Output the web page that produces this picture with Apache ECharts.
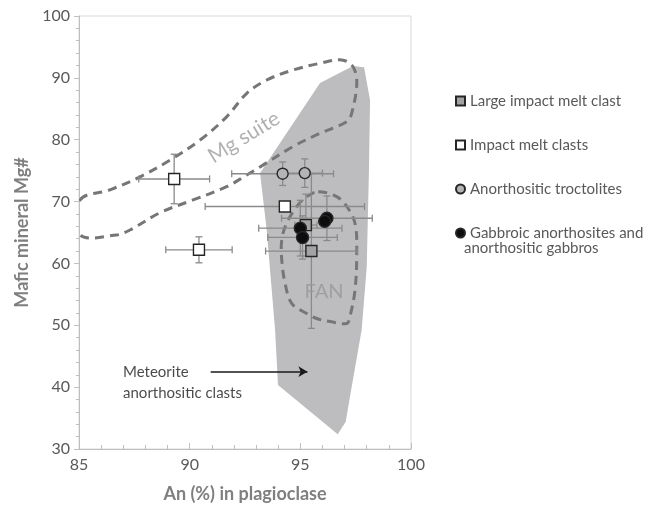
<!DOCTYPE html>
<html>
<head>
<meta charset="utf-8">
<script src="https://cdn.jsdelivr.net/npm/echarts@6/dist/echarts.min.js"></script>
<style>
  html, body { margin: 0; padding: 0; background: #fff; }
  #chart { width: 650px; height: 509px; }
</style>
</head>
<body>
<div id="chart"></div>
<script>
// Plagioclase An content vs. Mg# of the coexisting mafic mineral

// Sample points: [An %, Mg#, ±An, ±Mg#]
const largeImpactMeltClast = [
  [95.5, 62.0, 2.07, 12.5],
  [95.25, 66.2, 0.5, 5.0]
];
const impactMeltClasts = [
  [89.3, 73.65, 1.6, 4.0],
  [94.3, 69.2, 3.6, 0],
  [90.42, 62.2, 1.5, 2.1]
];
const anorthositicTroctolites = [
  [94.2, 74.5, 2.3, 1.9],
  [95.2, 74.6, 0.8, 2.3]
];
const gabbroicAnorthosites = [
  [96.2, 67.3, 2.05, 3.6],
  [96.1, 66.8, 0, 0],
  [95.0, 65.7, 1.88, 4.5],
  [95.1, 64.2, 1.57, 3.5]
];

// Compositional fields: [An %, Mg#]
const meteoriteField = [
  [95.89, 89.17], [97.38, 91.9], [97.88, 91.7], [98.15, 86.4], [98.1, 75.1],
  [98.0, 59.4], [97.77, 49.24], [97.24, 38.4], [97.05, 34.4], [96.69, 32.4],
  [93.99, 40.35], [93.86, 49.2], [93.48, 65.4], [93.18, 74.6]
];
const mgSuiteField = [
  [85.05, 70.26], [86.4, 71.9], [87.76, 74.0], [89.11, 76.7], [90.47, 79.95],
  [91.67, 83.7], [92.58, 87.5], [93.48, 89.65], [94.67, 91.27], [95.89, 92.35],
  [96.87, 92.9], [97.38, 91.8], [97.55, 89.1], [97.32, 84.27], [97.1, 82.9],
  [95.89, 81.04], [94.67, 78.9], [93.18, 75.6], [92.58, 74.3], [91.67, 72.4],
  [90.15, 70.26], [88.66, 68.2], [87.3, 65.4], [86.7, 64.6], [85.05, 64.6]
];
const fanField = [
  [95.81, 71.6], [96.64, 70.8], [97.1, 69.2], [97.47, 66.5], [97.55, 62.2],
  [97.47, 55.7], [97.24, 51.4], [97.1, 50.3], [96.34, 50.6], [95.74, 51.1],
  [95.29, 51.9], [94.61, 53.55], [94.31, 56.8], [94.16, 60.6], [94.16, 63.8],
  [94.38, 66.5], [94.84, 69.2], [95.29, 70.8]
];

// Axis ranges
const xRange = { min: 85, max: 100, interval: 5 };
const yRange = { min: 30, max: 100, interval: 10 };

// Labels
const xTitle = 'An (%) in plagioclase';
const yTitle = 'Mafic mineral Mg#';
const seriesNames = [
  'Large impact melt clast',
  'Impact melt clasts',
  'Anorthositic troctolites',
  'Gabbroic anorthosites and'
];
const seriesNameLine2 = 'anorthositic gabbros';
const meteoriteLabel = 'Meteorite\nanorthositic clasts';
const meteoriteArrow = [[90.95, 42.5], [95.32, 42.5]];

const FONT = 'Lato, "Open Sans", sans-serif';
const dashStroke = '#767676';

function fieldSeries(pts, style, smooth, z) {
  return {
    type: 'custom',
    silent: true,
    clip: true,
    z: z,
    data: pts,
    encode: { x: 0, y: 1 },
    renderItem: function (params, api) {
      if (params.dataIndex !== 0) return null;
      const points = pts.map(function (p) { return api.coord(p); });
      return { type: 'polygon', shape: { points: points, smooth: smooth }, style: style };
    }
  };
}

function errorBarSeries(rows) {
  return {
    type: 'custom',
    silent: true,
    z: 4,
    data: rows,
    encode: { x: 0, y: 1 },
    renderItem: function (params, api) {
      const x = api.value(0), y = api.value(1), dx = api.value(2), dy = api.value(3);
      const cap = 3.5;
      const st = { stroke: '#8a8a8a', lineWidth: 1.3 };
      const children = [];
      function seg(x1, y1, x2, y2) {
        children.push({ type: 'line', shape: { x1: x1, y1: y1, x2: x2, y2: y2 }, style: st });
      }
      if (dx > 0) {
        const a = api.coord([x - dx, y]), b = api.coord([x + dx, y]);
        seg(a[0], a[1], b[0], b[1]);
        seg(a[0], a[1] - cap, a[0], a[1] + cap);
        seg(b[0], b[1] - cap, b[0], b[1] + cap);
      }
      if (dy > 0) {
        const a = api.coord([x, y - dy]), b = api.coord([x, y + dy]);
        seg(a[0], a[1], b[0], b[1]);
        seg(a[0] - cap, a[1], a[0] + cap, a[1]);
        seg(b[0] - cap, b[1], b[0] + cap, b[1]);
      }
      return { type: 'group', children: children };
    }
  };
}

function pointSeries(name, rows, symbol, size, fill) {
  return {
    name: name,
    type: 'scatter',
    z: 6,
    symbol: symbol,
    symbolSize: size,
    data: rows.map(function (r) { return [r[0], r[1]]; }),
    itemStyle: { color: fill, borderColor: '#262626', borderWidth: 1.4, opacity: 1 }
  };
}

const chart = echarts.init(document.getElementById('chart'), null, { renderer: 'canvas' });

const option = {
  animation: false,
  backgroundColor: '#ffffff',
  grid: {
    left: 79, right: 239, top: 16, bottom: 60,
    show: true, borderColor: '#d9d9d9', borderWidth: 1
  },
  xAxis: {
    type: 'value',
    min: xRange.min, max: xRange.max, interval: xRange.interval,
    name: xTitle, nameLocation: 'middle', nameGap: 36,
    nameTextStyle: { fontFamily: FONT, fontSize: 18, fontWeight: 'bold', color: '#7f7f7f' },
    axisLine: { lineStyle: { color: '#bfbfbf', width: 1 } },
    axisTick: { show: true, inside: true, length: 6, lineStyle: { color: '#bfbfbf' } },
    minorTick: { show: true, splitNumber: 5, length: 4, lineStyle: { color: '#bfbfbf' } },
    axisLabel: { fontFamily: FONT, fontSize: 16, color: '#595959', margin: 8 },
    splitLine: { show: false }
  },
  yAxis: {
    type: 'value',
    min: yRange.min, max: yRange.max, interval: yRange.interval,
    name: yTitle, nameLocation: 'middle', nameGap: 46, nameRotate: 90,
    nameTextStyle: { fontFamily: FONT, fontSize: 18, fontWeight: 'bold', color: '#7f7f7f' },
    axisLine: { show: true, lineStyle: { color: '#bfbfbf', width: 1 } },
    axisTick: { show: true, inside: false, length: 5, lineStyle: { color: '#bfbfbf' } },
    minorTick: { show: true, splitNumber: 5, length: 3, lineStyle: { color: '#bfbfbf' } },
    axisLabel: { fontFamily: FONT, fontSize: 16, color: '#595959', margin: 9 },
    splitLine: { show: false }
  },
  legend: {
    orient: 'vertical',
    left: 450, top: 87,
    itemWidth: 9, itemHeight: 9, itemGap: 26,
    selectedMode: false,
    textStyle: { fontFamily: FONT, fontSize: 15, color: '#595959', lineHeight: 18 },
    data: seriesNames
  },
  graphic: [{
    type: 'text', left: 464, top: 241,
    style: { text: seriesNameLine2, font: '15px ' + FONT, fill: '#595959' }
  }],
  series: [
    fieldSeries(meteoriteField, { fill: '#bdbdbf', stroke: null }, 0, 1),
    fieldSeries(mgSuiteField, { fill: null, stroke: dashStroke, lineWidth: 3, lineDash: [9, 6] }, 0.35, 2),
    fieldSeries(fanField, { fill: null, stroke: dashStroke, lineWidth: 3, lineDash: [9, 6] }, 0.35, 2),
    errorBarSeries(largeImpactMeltClast),
    errorBarSeries(impactMeltClasts),
    errorBarSeries(anorthositicTroctolites),
    errorBarSeries(gabbroicAnorthosites.filter(function (r) { return r[2] > 0 || r[3] > 0; })),
    pointSeries(seriesNames[1], impactMeltClasts, 'rect', 11, '#ffffff'),
    pointSeries(seriesNames[2], anorthositicTroctolites, 'circle', 11, '#b4b4b6'),
    pointSeries(seriesNames[0], largeImpactMeltClast, 'rect', 11, '#a3a3a5'),
    pointSeries(seriesNames[3], gabbroicAnorthosites, 'circle', 12, '#0d0d0d'),
    {
      // Field names and the annotation arrow
      type: 'scatter',
      silent: true,
      z: 7,
      symbolSize: 0,
      data: [
        { value: [92.45, 80.4], name: 'Mg suite',
          label: { rotate: 31.5, fontSize: 21, color: '#9e9e9e', align: 'center', verticalAlign: 'middle' } },
        { value: [96.07, 55.4], name: 'FAN',
          label: { fontSize: 20, color: '#979797', align: 'center', verticalAlign: 'middle' } },
        { value: [86.99, 42.5], name: meteoriteLabel,
          label: { fontSize: 15, color: '#1a1a1a', align: 'left', verticalAlign: 'top', lineHeight: 21, offset: [0, -10] } }
      ],
      label: { show: true, position: 'inside', fontFamily: FONT, formatter: '{b}' },
      markLine: {
        silent: true,
        symbol: ['none', 'arrow'],
        symbolSize: [8, 9],
        label: { show: false },
        lineStyle: { color: '#1a1a1a', width: 1.5, type: 'solid' },
        data: [[{ coord: meteoriteArrow[0] }, { coord: meteoriteArrow[1] }]]
      }
    }
  ]
};

chart.setOption(option);
</script>
</body>
</html>
